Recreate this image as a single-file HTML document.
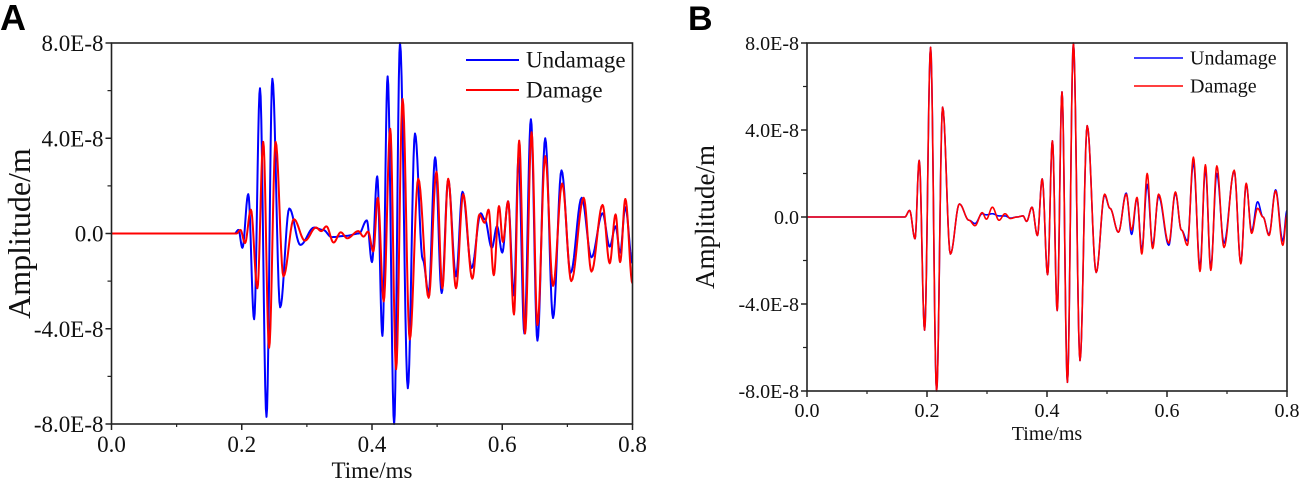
<!DOCTYPE html>
<html><head><meta charset="utf-8">
<style>
html,body{margin:0;padding:0;background:#fff;}
svg{display:block;font-family:"Liberation Serif",serif;}
.lbl{font-family:"Liberation Sans",sans-serif;font-weight:bold;}
</style></head>
<body>
<svg id="fig" width="1299" height="481" viewBox="0 0 1299 481"></svg>
<script>
// Panel A data: extrema [time ms, amplitude x1E-8]
const aTimesU=[0,.189,.195,.201,.21,.219,.228,.238,.247,.259,.273,.29,.311,.325,.338,.36,.38,.392,.4,.408,.416,.424,.434,.443,.455,.466,.478,.487,.497,.507,.517,.529,.539,.553,.567,.573,.584,.592,.6,.609,.618,.625,.634,.644,.654,.666,.678,.691,.705,.722,.737,.754,.765,.774,.781,.789,.8];
const aValsU=[0,0,.15,-.6,1.65,-3.6,6.1,-7.7,6.5,-3.1,1.05,-.48,.25,.15,-.15,-.1,0,.55,-1.2,2.4,-4.3,6.6,-8.0,8.0,-6.5,4.2,-1.1,-2.5,3.2,-2.5,2.25,-1.8,1.75,-1.45,.85,.6,-.6,.3,-.8,1.35,-2.6,3.2,-4.2,4.8,-4.5,4.0,-3.55,2.65,-1.65,1.5,-1.0,.85,-.55,.3,-.8,1.1,-1.25];
const aTimesD=[0,.192,.198,.205,.214,.224,.233,.242,.252,.264,.28,.297,.314,.322,.33,.341,.352,.362,.379,.387,.394,.402,.409,.418,.428,.437,.447,.458,.471,.487,.499,.508,.517,.529,.54,.554,.565,.573,.579,.587,.595,.601,.609,.618,.626,.635,.645,.654,.666,.678,.692,.706,.725,.737,.754,.765,.774,.781,.789,.8];
const aValsD=[0,0,.15,-.4,1.0,-2.3,3.85,-4.8,3.85,-1.8,.6,-.3,.25,.1,.3,-.38,.05,-.2,.1,-.13,.08,-.75,1.5,-2.85,4.4,-5.7,5.65,-4.45,2.3,-2.7,2.6,-2.3,2.3,-2.3,1.65,-1.9,.8,.45,1.0,-1.75,1.15,-.35,1.35,-3.4,3.9,-4.2,4.25,-3.85,3.25,-2.2,2.1,-2.0,1.5,-1.6,1.2,-1.25,.8,-1.2,1.45,-2.1];
// Panel B data
const bTimesD=[0,.163,.171,.18,.187,.196,.206,.216,.226,.239,.254,.27,.28,.292,.299,.309,.32,.33,.339,.35,.36,.366,.375,.384,.392,.401,.409,.417,.425,.434,.444,.455,.467,.482,.496,.505,.519,.532,.541,.55,.558,.567,.576,.586,.603,.614,.624,.634,.644,.655,.664,.673,.683,.695,.712,.723,.732,.741,.751,.76,.77,.781,.793,.8];
const bValsD=[0,0,.3,-1.0,2.6,-5.2,7.8,-8.0,5.05,-1.7,.6,-.15,-.4,.2,-.1,.45,-.15,.15,-.07,0,.05,-.2,.45,-.85,1.75,-2.65,3.5,-4.3,5.75,-7.6,8.0,-6.6,4.2,-2.55,1.05,.4,-.7,1.05,-.6,.9,-1.7,2.0,-1.45,1.05,-1.2,1.15,-.6,-1.3,2.75,-2.5,2.4,-2.45,2.35,-1.4,2.15,-2.15,1.55,-.75,.4,0,-.85,1.2,-1.3,.1];
const bTimesU=[0,.163,.171,.18,.187,.196,.206,.216,.226,.239,.254,.27,.28,.292,.299,.309,.32,.33,.339,.35,.36,.366,.375,.384,.392,.401,.409,.417,.425,.434,.444,.455,.467,.482,.496,.505,.519,.532,.541,.55,.558,.567,.576,.586,.603,.614,.624,.634,.644,.655,.664,.673,.683,.695,.712,.723,.732,.741,.751,.76,.77,.781,.793,.8];
const bValsU=[0,0,.3,-1.0,2.6,-5.2,7.8,-8.0,5.05,-1.7,.6,-.15,-.3,.15,.1,.15,.05,.05,-.05,0,.05,-.2,.45,-.85,1.75,-2.65,3.5,-4.3,5.75,-7.6,8.0,-6.6,4.2,-2.55,1.0,.4,-.7,1.1,-.8,.85,-1.5,1.5,-1.3,.95,-1.3,1.1,-.6,-1.1,2.5,-2.3,2.2,-2.3,2.0,-1.2,2.1,-2.1,1.5,-.65,.7,0,-.8,1.25,-1.1,.3];
const xTicks=[0,0.2,0.4,0.6,0.8];
const xTickLabels=["0.0","0.2","0.4","0.6","0.8"];
const yTicks=[-8,-4,0,4,8];
const yTickLabels=["-8.0E-8","-4.0E-8","0.0","4.0E-8","8.0E-8"];

const NS="http://www.w3.org/2000/svg";
const svg=document.getElementById('fig');
function mk(tag,attrs,parent){const e=document.createElementNS(NS,tag);for(const k in attrs)e.setAttribute(k,attrs[k]);(parent||svg).appendChild(e);return e;}

function panel(p){
  const g=mk('g',{});
  
  
  const sx=t=>p.x0+(t/0.8)*(p.x1-p.x0);
  const sy=v=>p.y0+(8-v)/16*(p.y1-p.y0);
  const cp=mk('clipPath',{id:'c'+p.name},g);
  mk('rect',{x:p.x0,y:p.y0-2,width:p.x1-p.x0,height:p.y1-p.y0+4},cp);
  const lg=mk('g',{'clip-path':'url(#c'+p.name+')'},g);
  function pathIn(ts,vs,color,nm){
    let d='M'+sx(ts[0]).toFixed(2)+','+sy(vs[0]).toFixed(2);
    for(let i=1;i<ts.length;i++){
      const n=10;
      for(let k=1;k<=n;k++){
        const u=k/n,w=(1-Math.cos(Math.PI*u))/2;
        const t=ts[i-1]+(ts[i]-ts[i-1])*u,v=vs[i-1]+(vs[i]-vs[i-1])*w;
        d+=' L'+sx(t).toFixed(2)+','+sy(v).toFixed(2);
      }
    }
    const e=mk('path',{d:d,fill:'none',stroke:color,'stroke-width':p.lw,'stroke-linejoin':'round'},lg);
    
    
  }
  pathIn(p.tu,p.vu,'#0000ff','undamage-line');
  pathIn(p.td,p.vd,'#ff0000','damage-line');
  const fr=mk('rect',{x:p.x0,y:p.y0,width:p.x1-p.x0,height:p.y1-p.y0,fill:'none',stroke:'#222','stroke-width':1.6},g);
  
  
  xTicks.forEach((t,i)=>{
    mk('line',{x1:sx(t),x2:sx(t),y1:p.y1,y2:p.y1+6,stroke:'#222','stroke-width':1.5},g);
    const tx=mk('text',{x:sx(t),y:p.xly,'text-anchor':'middle','font-size':p.fs,fill:'#111'},g);
    tx.textContent=xTickLabels[i];
    
    
  });
  for(let t=0.1;t<0.8;t+=0.2){mk('line',{x1:sx(t),x2:sx(t),y1:p.y1,y2:p.y1+3,stroke:'#222','stroke-width':1.2},g);}
  yTicks.forEach((v,i)=>{
    mk('line',{x1:p.x0-6,x2:p.x0,y1:sy(v),y2:sy(v),stroke:'#222','stroke-width':1.5},g);
    const tx=mk('text',{x:p.x0-8,y:sy(v)+p.fs*0.35,'text-anchor':'end','font-size':p.fs,fill:'#111'},g);
    tx.textContent=yTickLabels[i];
    
    
  });
  [-6,-2,2,6].forEach(v=>mk('line',{x1:p.x0-4,x2:p.x0,y1:sy(v),y2:sy(v),stroke:'#222','stroke-width':1.2},g));
  const xt=mk('text',{x:(p.x0+p.x1)/2,y:p.xty,'text-anchor':'middle','font-size':p.fs,fill:'#111'},g);
  xt.textContent='Time/ms';
  
  
  const yt=mk('text',{x:0,y:0,'text-anchor':'middle','font-size':p.yfs,fill:'#111',transform:`translate(${p.ytx},${(p.y0+p.y1)/2}) rotate(-90)`},g);
  yt.textContent='Amplitude/m';
  
  
  [['Undamage','#0000ff',p.lgy],['Damage','#ff0000',p.lgy+p.lgd]].forEach(([n,c,y])=>{
    const le=mk('g',{},g);
    
    
    mk('line',{x1:p.lgx,x2:p.lgx+p.lgw,y1:y,y2:y,stroke:c,'stroke-width':p.lw},le);
    const t=mk('text',{x:p.lgx+p.lgw+7,y:y+p.lfs*0.33,'font-size':p.lfs,fill:'#111'},le);
    t.textContent=n;
  });
  const pl=mk('text',{x:p.plx,y:p.ply,'font-size':p.pfs,class:'lbl',fill:'#000'},g);
  pl.textContent=p.label;
  
  
}
panel({name:'panel-a',label:'A',x0:111.5,x1:632.5,y0:43,y1:424,tu:aTimesU,vu:aValsU,td:aTimesD,vd:aValsD,lw:2,fs:23,yfs:32,xly:452,xty:478,ytx:30,lgx:466,lgw:53,lgy:60,lgd:30,lfs:23,plx:0,ply:30,pfs:36});
panel({name:'panel-b',label:'B',x0:807,x1:1287,y0:43,y1:391,tu:bTimesU,vu:bValsU,td:bTimesD,vd:bValsD,lw:1.6,fs:20,yfs:27,xly:417,xty:440,ytx:714,lgx:1134,lgw:49,lgy:58,lgd:28,lfs:20,plx:688,ply:30,pfs:34});
</script>
</body></html>
